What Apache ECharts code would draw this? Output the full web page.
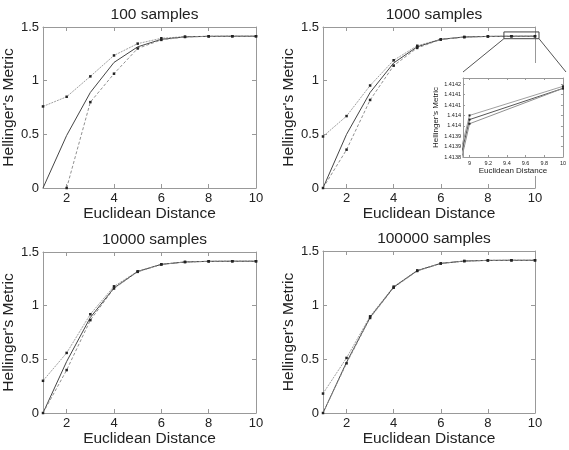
<!DOCTYPE html>
<html>
<head>
<meta charset="utf-8">
<script src="https://cdn.jsdelivr.net/npm/echarts@6/dist/echarts.min.js"></script>
<style>
  html, body { margin: 0; padding: 0; background: #fff; }
  #chart { width: 569px; height: 450px; }
</style>
</head>
<body>
<div id="chart"></div>
<script>
// data
var distances = [1, 2, 3, 4, 5, 6, 7, 8, 9, 10];
var titles = ['100 samples', '1000 samples', '10000 samples', '100000 samples'];

var upper100  = [0.76, 0.85, 1.04, 1.235, 1.345, 1.395, 1.41, 1.413, 1.414, 1.414];
var solid100  = [0, 0.49, 0.89, 1.17, 1.315, 1.385, 1.408, 1.413, 1.414, 1.414];
var lower100  = [null, 0, 0.80, 1.065, 1.30, 1.38, 1.407, 1.413, 1.414, 1.414];

var upper1000 = [0.48, 0.67, 0.955, 1.19, 1.325, 1.385, 1.407, 1.4122, 1.41400, 1.41414];
var solid1000 = [0, 0.50, 0.89, 1.165, 1.315, 1.385, 1.407, 1.4121, 1.41398, 1.41413];
var lower1000 = [0, 0.357, 0.82, 1.14, 1.305, 1.383, 1.406, 1.4120, 1.41396, 1.41413];

var upper10k  = [0.30, 0.56, 0.92, 1.18, 1.32, 1.385, 1.407, 1.413, 1.414, 1.414];
var solid10k  = [0, 0.48, 0.89, 1.165, 1.318, 1.385, 1.407, 1.413, 1.414, 1.414];
var lower10k  = [0, 0.40, 0.865, 1.16, 1.315, 1.384, 1.407, 1.413, 1.414, 1.414];

var upper100k = [0.18, 0.51, 0.895, 1.17, 1.32, 1.385, 1.407, 1.413, 1.414, 1.414];
var solid100k = [0, 0.47, 0.885, 1.165, 1.318, 1.385, 1.407, 1.413, 1.414, 1.414];
var lower100k = [0, 0.46, 0.88, 1.16, 1.315, 1.384, 1.407, 1.413, 1.414, 1.414];

var yTicks = ['0', '0.5', '1', '1.5'];
var insetYLabels = ['1.4138', '1.4139', '1.4139', '1.414', '1.414', '1.4141', '1.4141', '1.4142'];
var zoomBox = [8.68, 10.17, 1.391, 1.454]; // x0, x1, y0, y1 in the 1000 samples plot

var plots = [
  [upper100, solid100, lower100],
  [upper1000, solid1000, lower1000],
  [upper10k, solid10k, lower10k],
  [upper100k, solid100k, lower100k]
];

var FONT = '"Liberation Sans", Arial, sans-serif';
var frameColor = '#999';
var textColor = '#222';

// grid boxes in pixels
var boxes = [
  { left: 43, top: 27, width: 213, height: 161 },
  { left: 323, top: 27, width: 212, height: 161 },
  { left: 43, top: 252, width: 213, height: 161 },
  { left: 323, top: 251, width: 212, height: 162 }
];
var insetBox = { left: 463, top: 78, width: 104, height: 79 };

function pairs(ys) {
  return distances.map(function (x, i) { return [x, ys[i]]; });
}

var grid = [], xAxis = [], yAxis = [], series = [], title = [];

boxes.forEach(function (b, gi) {
  grid.push(b);
  title.push({
    text: titles[gi],
    left: b.left + b.width / 2,
    top: b.top - 25,
    textAlign: 'center',
    textStyle: { fontFamily: FONT, fontSize: 15.5, fontWeight: 'normal', color: textColor }
  });
  var tick = { inside: true, length: 4, lineStyle: { color: frameColor } };
  xAxis.push({
    gridIndex: gi, type: 'value', min: 1, max: 10, splitNumber: 5,
    axisLine: { lineStyle: { color: frameColor } },
    axisTick: tick,
    axisLabel: { showMinLabel: false, color: textColor, fontSize: 13, fontFamily: FONT, margin: 4 },
    splitLine: { show: false },
    name: 'Euclidean Distance', nameLocation: 'middle', nameGap: 17,
    nameTextStyle: { fontFamily: FONT, fontSize: 15.5, color: textColor }
  });
  xAxis.push({
    gridIndex: gi, type: 'value', min: 1, max: 10, splitNumber: 5, position: 'top',
    axisLine: { onZero: false, lineStyle: { color: frameColor } },
    axisTick: tick, axisLabel: { show: false }, splitLine: { show: false }
  });
  yAxis.push({
    gridIndex: gi, type: 'value', min: 0, max: 1.5, interval: 0.5,
    axisLine: { show: true, lineStyle: { color: frameColor } },
    axisTick: { show: true, inside: true, length: 4, lineStyle: { color: frameColor } },
    axisLabel: {
      color: textColor, fontSize: 13, fontFamily: FONT, margin: 4,
      formatter: function (v) { return yTicks[Math.round(v / 0.5)]; }
    },
    splitLine: { show: false },
    name: "Hellinger's Metric", nameLocation: 'middle', nameGap: 22,
    nameTextStyle: { fontFamily: FONT, fontSize: 15.5, color: textColor }
  });
  yAxis.push({
    gridIndex: gi, type: 'value', min: 0, max: 1.5, interval: 0.5, position: 'right',
    axisLine: { show: true, onZero: false, lineStyle: { color: frameColor } },
    axisTick: { show: true, inside: true, length: 4, lineStyle: { color: frameColor } },
    axisLabel: { show: false }, splitLine: { show: false }
  });
  var xi = gi * 2, yi = gi * 2;
  var ds = plots[gi];
  series.push({
    type: 'line', xAxisIndex: xi, yAxisIndex: yi, data: pairs(ds[0]),
    symbol: 'rect', symbolSize: 2.5, itemStyle: { color: '#222' },
    lineStyle: { color: '#a0a0a0', width: 1, type: [2, 1] }, animation: false
  });
  series.push({
    type: 'line', xAxisIndex: xi, yAxisIndex: yi, data: pairs(ds[1]),
    showSymbol: false, symbol: 'none',
    lineStyle: { color: '#444', width: 1 }, animation: false
  });
  series.push({
    type: 'line', xAxisIndex: xi, yAxisIndex: yi, data: pairs(ds[2]),
    symbol: 'rect', symbolSize: 2.5, itemStyle: { color: '#222' },
    lineStyle: { color: '#909090', width: 1, type: [3, 2] }, animation: false
  });
});

// inset of the 1000 samples plot
var ig = grid.length;
grid.push(insetBox);
var insetTick = { inside: true, length: 2, lineStyle: { color: frameColor } };
xAxis.push({
  gridIndex: ig, type: 'value', min: 8.93, max: 10, splitNumber: 5, z: 11,
  axisLine: { lineStyle: { color: frameColor } },
  axisTick: insetTick,
  axisLabel: {
    showMinLabel: false, color: textColor, fontSize: 5.5, fontFamily: FONT, margin: 3,
    formatter: function (v) { return Math.abs(v * 5 - Math.round(v * 5)) > 1e-6 ? '' : String(+v.toFixed(1)); }
  },
  splitLine: { show: false },
  name: 'Euclidean Distance', nameLocation: 'middle', nameGap: 9,
  nameTextStyle: { fontFamily: FONT, fontSize: 8, color: textColor }
});
xAxis.push({
  gridIndex: ig, type: 'value', min: 8.93, max: 10, splitNumber: 5, position: 'top', z: 11,
  axisLine: { onZero: false, lineStyle: { color: frameColor } },
  axisTick: insetTick, axisLabel: { show: false }, splitLine: { show: false }
});
yAxis.push({
  gridIndex: ig, type: 'value', min: 1.4138, max: 1.41418, interval: 0.00005, z: 11,
  axisLine: { show: true, lineStyle: { color: frameColor } },
  axisTick: { show: true, inside: true, length: 2, lineStyle: { color: frameColor } },
  axisLabel: {
    color: textColor, fontSize: 5.5, fontFamily: FONT, margin: 2,
    formatter: function (v) {
      var k = (v - 1.4138) / 0.00005;
      if (Math.abs(k - Math.round(k)) > 0.05) return '';
      return insetYLabels[Math.round(k)] || '';
    }
  },
  splitLine: { show: false },
  name: "Hellinger's Metric", nameLocation: 'middle', nameGap: 21,
  nameTextStyle: { fontFamily: FONT, fontSize: 8, color: textColor }
});
yAxis.push({
  gridIndex: ig, type: 'value', min: 1.4138, max: 1.41418, interval: 0.00005, position: 'right', z: 11,
  axisLine: { show: true, onZero: false, lineStyle: { color: frameColor } },
  axisTick: { show: true, inside: true, length: 2, lineStyle: { color: frameColor } },
  axisLabel: { show: false }, splitLine: { show: false }
});
var ixi = ig * 2, iyi = ig * 2;
[
  { d: upper1000, c: '#a0a0a0' },
  { d: solid1000, c: '#555' },
  { d: lower1000, c: '#909090' }
].forEach(function (s) {
  series.push({
    type: 'line', xAxisIndex: ixi, yAxisIndex: iyi, data: pairs(s.d), z: 12,
    symbol: 'rect', symbolSize: 2, itemStyle: { color: '#222' }, showSymbol: true,
    lineStyle: { color: s.c, width: 1 }, animation: false, clip: true
  });
});

var chart = echarts.init(document.getElementById('chart'), null, { renderer: 'canvas' });
chart.setOption({
  backgroundColor: '#fff',
  animation: false,
  title: title,
  grid: grid,
  xAxis: xAxis,
  yAxis: yAxis,
  series: series
});

// zoom box, connector lines and white backdrop behind the inset
var p0 = chart.convertToPixel({ xAxisIndex: 2, yAxisIndex: 2 }, [zoomBox[0], zoomBox[3]]);
var p1 = chart.convertToPixel({ xAxisIndex: 2, yAxisIndex: 2 }, [zoomBox[1], zoomBox[2]]);
var lineStyle = { stroke: '#555', lineWidth: 1, fill: null };
chart.setOption({
  graphic: [
    {
      type: 'rect', z: 10,
      shape: { x: insetBox.left - 33, y: 63, width: 569 - insetBox.left + 33, height: 113 },
      style: { fill: '#fff' }
    },
    {
      type: 'rect', z: 13,
      shape: { x: p0[0], y: p0[1], width: p1[0] - p0[0], height: p1[1] - p0[1] },
      style: { stroke: '#444', lineWidth: 1, fill: null }
    },
    {
      type: 'line', z: 13,
      shape: { x1: p0[0], y1: p1[1], x2: insetBox.left, y2: insetBox.top - 6 },
      style: lineStyle
    },
    {
      type: 'line', z: 13,
      shape: { x1: p1[0], y1: p1[1], x2: insetBox.left + insetBox.width - 1, y2: insetBox.top - 6 },
      style: lineStyle
    }
  ]
});
</script>
</body>
</html>
